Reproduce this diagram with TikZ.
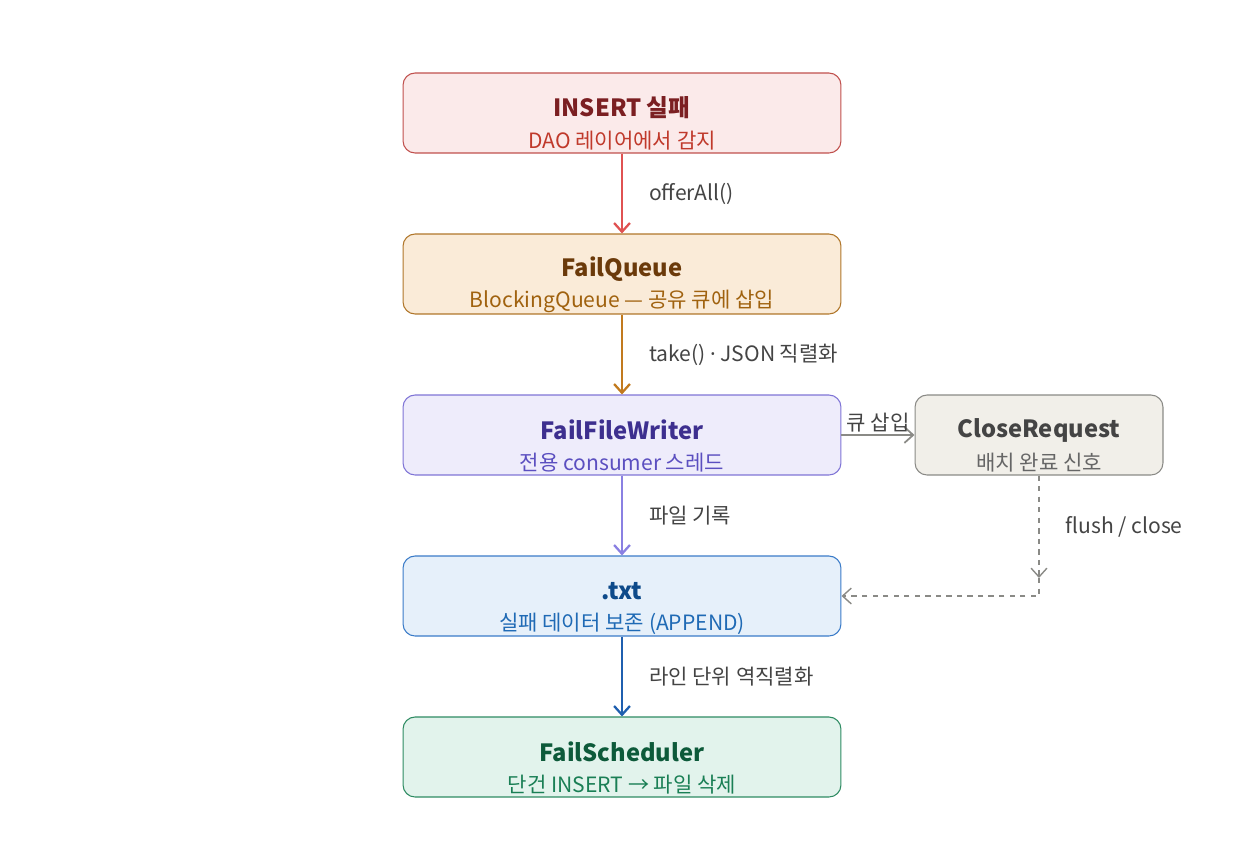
\documentclass[tikz,border=0pt]{standalone}
\usepackage{fontspec}
\setmainfont{Noto Sans CJK KR}
\newfontfamily\latinfont{Noto Sans}
\usetikzlibrary{arrows.meta, positioning}

\definecolor{redFill}{HTML}{FBEAEA}
\definecolor{redLine}{HTML}{C0504D}
\definecolor{redTitle}{HTML}{7B1F22}
\definecolor{redSub}{HTML}{C0392B}
\definecolor{redArrow}{HTML}{E05252}
\definecolor{orgFill}{HTML}{FAEBD8}
\definecolor{orgLine}{HTML}{B0762A}
\definecolor{orgTitle}{HTML}{6B3A0A}
\definecolor{orgSub}{HTML}{A0620F}
\definecolor{orgArrow}{HTML}{C27A1E}
\definecolor{purFill}{HTML}{EEECFB}
\definecolor{purLine}{HTML}{7F74D6}
\definecolor{purTitle}{HTML}{3D2F8F}
\definecolor{purSub}{HTML}{5B4FC0}
\definecolor{purArrow}{HTML}{8A80E2}
\definecolor{bluFill}{HTML}{E6F0FA}
\definecolor{bluLine}{HTML}{3A7BC8}
\definecolor{bluTitle}{HTML}{0D4A8A}
\definecolor{bluSub}{HTML}{1F6AB5}
\definecolor{bluArrow}{HTML}{1F5FAF}
\definecolor{grnFill}{HTML}{E2F3EC}
\definecolor{grnLine}{HTML}{2E8B62}
\definecolor{grnTitle}{HTML}{0D5A3A}
\definecolor{grnSub}{HTML}{1A7F55}
\definecolor{gryFill}{HTML}{F1EFE9}
\definecolor{gryLine}{HTML}{8A8A86}
\definecolor{gryTitle}{HTML}{444444}
\definecolor{grySub}{HTML}{666666}
\definecolor{labelGray}{HTML}{444444}

\begin{document}
\begin{tikzpicture}[
    x=0.02cm, y=-0.02cm,
    >={Straight Barb[length=5pt, width=9pt]},
    % Box style: rounded rectangle, no text inside
    boxStyle/.style={
        rectangle, rounded corners=0.24cm,
        minimum width=8.76cm, minimum height=1.6cm,
        line width=0.6pt
    },
    sideBoxStyle/.style={
        boxStyle, minimum width=4.96cm,
        fill=gryFill, draw=gryLine
    },
    % Title and subtitle lines
    titleStyle/.style={
        font=\fontsize{13.5}{15}\selectfont\bfseries,
        inner sep=0pt
    },
    subStyle/.style={
        font=\fontsize{12}{14}\selectfont,
        inner sep=0pt
    },
    % Plain edge labels
    labelStyle/.style={
        font=\fontsize{12}{14}\selectfont,
        text=labelGray
    },
    flowStyle/.style={->, line width=1.3pt},
    dashStyle/.style={->, dashed, line width=0.8pt, draw=gryLine}
]

\useasboundingbox (0,0) rectangle (1244,842);

%--- Main column of boxes ---
\node[boxStyle, fill=redFill, draw=redLine] (insert)  at (622,113) {};
\node[boxStyle, fill=orgFill, draw=orgLine] (queue)   at (622,274) {};
\node[boxStyle, fill=purFill, draw=purLine] (writer)  at (622,435) {};
\node[boxStyle, fill=bluFill, draw=bluLine] (txt)     at (622,596) {};
\node[boxStyle, fill=grnFill, draw=grnLine] (sched)   at (622,757) {};

%--- Side box ---
\node[sideBoxStyle] (close) at (1039,435) {};

%--- Box texts ---
\node[titleStyle, text=redTitle] (insertT) at ([yshift=0.1cm]insert.center)   {INSERT 실패};
\node[subStyle,   text=redSub]   (insertS) at ([yshift=-0.55cm]insert.center) {DAO 레이어에서 감지};

\node[titleStyle, text=orgTitle] (queueT) at ([yshift=0.1cm]queue.center)   {FailQueue};
\node[subStyle,   text=orgSub]   (queueS) at ([yshift=-0.55cm]queue.center) {BlockingQueue — 공유 큐에 삽입};

\node[titleStyle, text=purTitle] (writerT) at ([yshift=0.1cm]writer.center)   {FailFileWriter};
\node[subStyle,   text=purSub]   (writerS) at ([yshift=-0.55cm]writer.center) {전용 consumer 스레드};

\node[titleStyle, text=bluTitle] (txtT) at ([yshift=0.1cm]txt.center)   {.txt};
\node[subStyle,   text=bluSub]   (txtS) at ([yshift=-0.55cm]txt.center) {실패 데이터 보존 (APPEND)};

\node[titleStyle, text=grnTitle] (schedT) at ([yshift=0.1cm]sched.center)   {FailScheduler};
\node[subStyle,   text=grnSub]   (schedS) at ([yshift=-0.55cm]sched.center) {단건 INSERT → 파일 삭제};

\node[titleStyle, text=gryTitle] (closeT) at ([yshift=0.1cm]close.center)   {CloseRequest};
\node[subStyle,   text=grySub]   (closeS) at ([yshift=-0.55cm]close.center) {배치 완료 신호};

%-----------------------
%        Edges
%-----------------------
% (1) INSERT fail -> FailQueue
\draw[flowStyle, draw=redArrow]
  (insert) -- node[labelStyle, right=0.4cm] {offerAll()} (queue);

% (2) FailQueue -> FailFileWriter
\draw[flowStyle, draw=orgArrow]
  (queue) -- node[labelStyle, right=0.4cm] {take() {\latinfont·} JSON 직렬화} (writer);

% (3) FailFileWriter -> .txt
\draw[flowStyle, draw=purArrow]
  (writer) -- node[labelStyle, right=0.4cm] {파일 기록} (txt);

% (4) .txt -> FailScheduler
\draw[flowStyle, draw=bluArrow]
  (txt) -- node[labelStyle, right=0.4cm] {라인 단위 역직렬화} (sched);

% (5) FailFileWriter -> CloseRequest
\draw[flowStyle, line width=1pt, draw=gryLine]
  (writer) -- node[labelStyle, above, inner sep=1pt] {큐 삽입} (close);

% (6) CloseRequest -> .txt (dashed, bent)
\coordinate (corner) at (close.south |- txt.east);
\coordinate (tipMark) at ([yshift=0.36cm]corner);
\draw[dashStyle]
  (close.south) -- node[labelStyle, right=0.4cm] {flush / close} (tipMark);
\draw[dashStyle]
  (tipMark) -- (corner) -- (txt.east);
\end{tikzpicture}
\end{document}
